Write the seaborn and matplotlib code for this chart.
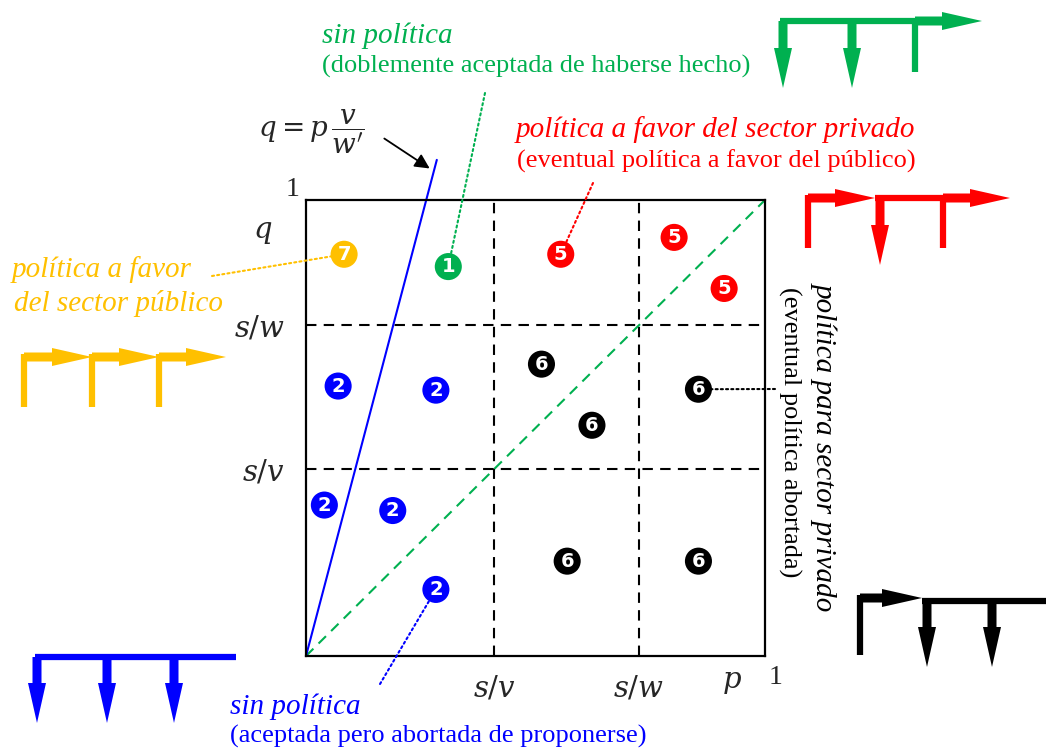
import numpy as np
import pandas as pd
import matplotlib
matplotlib.use("Agg")
import matplotlib.pyplot as plt
from matplotlib.patches import FancyArrow
import seaborn as sns

# thresholds on the unit square
s_over_v = 0.41
s_over_w = 0.725
tick_vals = [s_over_v, s_over_w]
tick_labels = [r"$s/v$", r"$s/w$"]

# numbered regions (p, q, label)
pts_p = [0.083, 0.310, 0.555, 0.802, 0.911, 0.070, 0.283, 0.513, 0.855, 0.623,
         0.040, 0.189, 0.569, 0.855, 0.283]
pts_q = [0.881, 0.854, 0.881, 0.918, 0.806, 0.592, 0.583, 0.640, 0.585, 0.506,
         0.331, 0.319, 0.208, 0.208, 0.146]
pts_num = ["7", "1", "5", "5", "5", "2", "2", "6", "6", "6",
           "2", "2", "6", "6", "2"]

# q = p v / w'  and  q = p
steep_p = [0, 0.285]
steep_q = [0, 1.088]
diag_p = [0, 1]
diag_q = [0, 1]

colors = {"7": "#FFC000", "1": "#00B050", "5": "#FF0000", "2": "#0000FF", "6": "#000000"}

# decorative "path" glyphs, in figure pixels (x0, y0, x1, y1), y measured from top
glyphs = {
    "#00B050": {"seg": [(780, 21, 915, 21), (915, 21, 915, 72)],
                "arr": [(783, 21, 783, 88), (852, 21, 852, 88), (915, 21, 982, 21)]},
    "#FF0000": {"seg": [(808, 195, 808, 248), (875, 198, 943, 198), (943, 198, 943, 248)],
                "arr": [(808, 198, 875, 198), (880, 198, 880, 265), (943, 198, 1010, 198)]},
    "#FFC000": {"seg": [(24, 354, 24, 407), (92, 354, 92, 407), (159, 354, 159, 407)],
                "arr": [(24, 357, 92, 357), (92, 357, 159, 357), (159, 357, 226, 357)]},
    "#000000": {"seg": [(860, 595, 860, 655), (922, 601, 1046, 601)],
                "arr": [(860, 598, 922, 598), (927, 601, 927, 667), (992, 601, 992, 667)]},
    "#0000FF": {"seg": [(35, 657, 236, 657)],
                "arr": [(37, 657, 37, 723), (107, 657, 107, 723), (174, 657, 174, 723)]},
}

df = pd.DataFrame({"p": pts_p, "q": pts_q, "num": pts_num})

sns.set_style("white")
plt.rcParams["font.family"] = ["Liberation Serif", "DejaVu Serif"]
plt.rcParams["mathtext.fontset"] = "dejavuserif"

W, H = 1046, 749
FS = 19     # upright captions
FI = 21     # italic captions

fig = plt.figure(figsize=(W / 100, H / 100), dpi=100)

# overlay in pixel coordinates for the free-floating pieces
ov = fig.add_axes([0, 0, 1, 1])
ov.set_xlim(0, W)
ov.set_ylim(H, 0)
ov.axis("off")

for col, g in glyphs.items():
    for x0, y0, x1, y1 in g["seg"]:
        ov.plot([x0, x1], [y0, y1], color=col, lw=4.5, solid_capstyle="butt")
    for x0, y0, x1, y1 in g["arr"]:
        ov.add_patch(FancyArrow(x0, y0, x1 - x0, y1 - y0, width=9, head_width=18,
                                head_length=40, length_includes_head=True,
                                color=col, lw=0))

# captions
ov.text(322, 43, "sin política", color="#00B050", fontsize=FI, style="italic")
ov.text(322, 73, "(doblemente aceptada de haberse hecho)", color="#00B050", fontsize=FS)
ov.text(516, 137, "política a favor del sector privado", color="#FF0000", fontsize=FI, style="italic")
ov.text(517, 168, "(eventual política a favor del público)", color="#FF0000", fontsize=FS)
ov.text(12, 277, "política a favor", color="#FFC000", fontsize=FI, style="italic")
ov.text(14, 311, "del sector público", color="#FFC000", fontsize=FI, style="italic")
ov.text(230, 714, "sin política", color="#0000FF", fontsize=FI, style="italic")
ov.text(230, 743, "(aceptada pero abortada de proponerse)", color="#0000FF", fontsize=FS)
ov.text(825, 282, "política para sector privado", color="black", fontsize=FI, style="italic",
        rotation=270, ha="center", va="top")
ov.text(790, 287, "(eventual política abortada)", color="black", fontsize=FS,
        rotation=270, ha="center", va="top")
ov.text(258, 132, r"$q = p\,\dfrac{v}{w'}$", fontsize=20, va="center")
ov.annotate("", xy=(432, 170), xytext=(382, 137),
            arrowprops=dict(arrowstyle="-|>", color="black", lw=1.3, mutation_scale=22))

# main square
ax = fig.add_axes([306 / W, (H - 656) / H, 459 / W, 456 / H])
ax.patch.set_alpha(0)
ax.set_xlim(0, 1)
ax.set_ylim(0, 1)

for v in tick_vals:
    ax.axvline(v, color="black", ls=(0, (5, 3.5)), lw=1.5, zorder=1)
    ax.axhline(v, color="black", ls=(0, (5, 3.5)), lw=1.5, zorder=1)

sns.lineplot(x=diag_p, y=diag_q, ax=ax, color="#00B050", lw=1.5,
             linestyle=(0, (5, 3.5)), zorder=2)
sns.lineplot(x=steep_p, y=steep_q, ax=ax, color="#0000FF", lw=1.5,
             clip_on=False, zorder=2)

sns.scatterplot(data=df, x="p", y="q", hue="num", palette=colors, s=380,
                edgecolor="none", legend=False, ax=ax, zorder=3, clip_on=False)
for p, q, n in zip(pts_p, pts_q, pts_num):
    ax.text(p, q, n, color="white", fontsize=14, fontweight="bold",
            family="DejaVu Sans", ha="center", va="center", zorder=4)

# leader lines from captions to circles
leaders = [(1, 485, 93, "#00B050"), (2, 593, 183, "#FF0000"), (0, 212, 276, "#FFC000"),
           (8, 775, 389, "black"), (14, 380, 684, "#0000FF")]
for i, x, y, col in leaders:
    ax.annotate("", xy=(pts_p[i], pts_q[i]), xycoords="data",
                xytext=(x, H - y), textcoords="figure pixels",
                arrowprops=dict(arrowstyle="-", color=col, lw=1.5, ls=(0, (1, 1.5)),
                                shrinkA=0, shrinkB=9.5))

for s in ax.spines.values():
    s.set_visible(True)
    s.set_color("black")
    s.set_linewidth(1.6)

ax.set_xticks(tick_vals, tick_labels)
ax.set_yticks(tick_vals, tick_labels)
ax.tick_params(direction="in", length=6, width=1.2, labelsize=21)
ax.tick_params(axis="x", pad=13)
ax.tick_params(axis="y", pad=15)
ax.set_xlabel("")
ax.set_ylabel("")

ov.text(263, 233, r"$q$", fontsize=21, ha="center", va="center")
ov.text(732, 683, r"$p$", fontsize=21, ha="center", va="center")
ov.text(293, 190, "1", fontsize=20, ha="center", va="center")
ov.text(776, 677, "1", fontsize=20, ha="center", va="center")

fig.savefig("out.png", dpi=100)
